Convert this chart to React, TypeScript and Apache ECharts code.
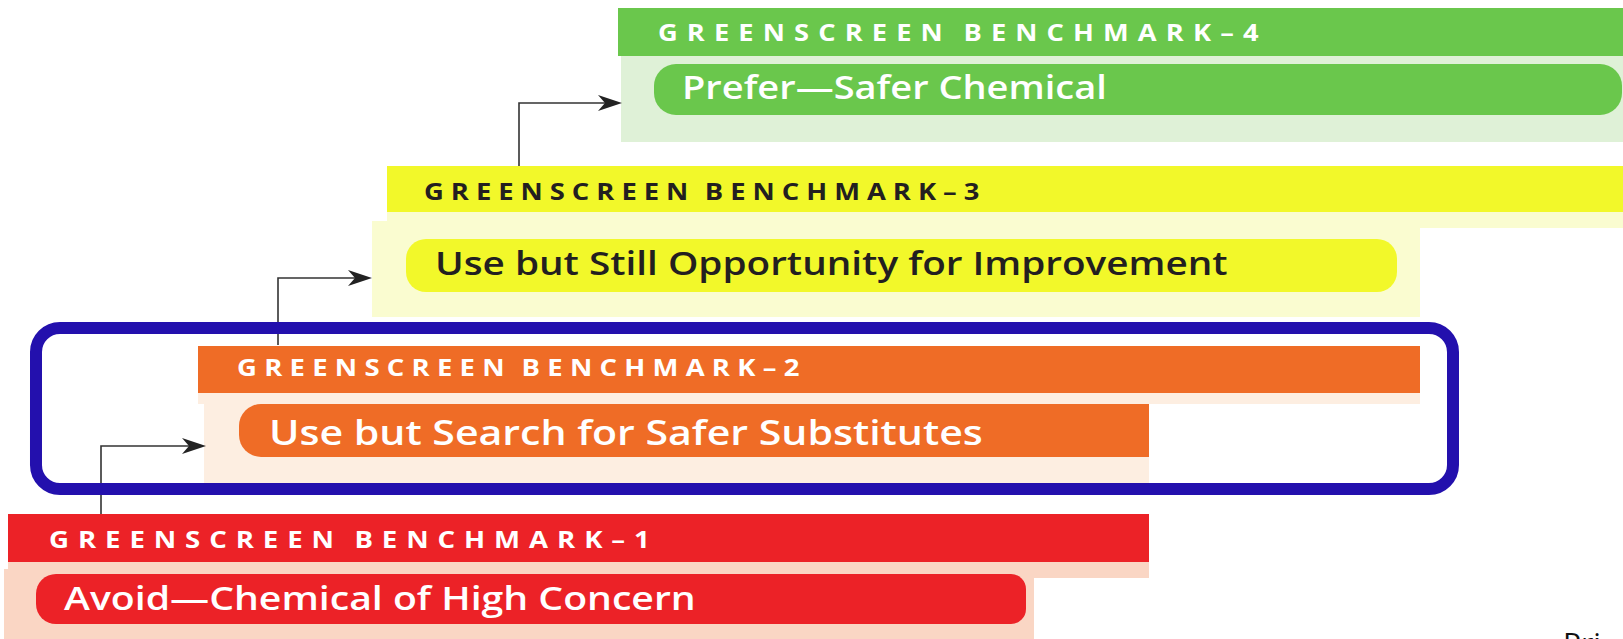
import React, { useEffect, useRef } from "react";
import * as echarts from "echarts";

// ---- content (bottom level first) ----
const benchmarkLabels = [
  "GREENSCREEN BENCHMARK–1",
  "GREENSCREEN BENCHMARK–2",
  "GREENSCREEN BENCHMARK–3",
  "GREENSCREEN BENCHMARK–4",
];
const actionLabels = [
  "Avoid—Chemical of High Concern",
  "Use but Search for Safer Substitutes",
  "Use but Still Opportunity for Improvement",
  "Prefer—Safer Chemical",
];
const footerLabel = "Pri";

// ---- styling ----
const headerColors = ["#ec2227", "#ef6c26", "#f2f82a", "#6ac74c"];
const bandColors = ["#fad6c4", "#fdeee1", "#fafcd0", "#dff1d7"];
const textColors = ["#ffffff", "#ffffff", "#231f20", "#ffffff"];
const headerFontSizes = [24, 23.9, 23.8, 23.7];
const headerSpacing = [7.75, 6.3, 6.1, 7.95];
const headerStretch = 1.15;
const pillFontSizes = [33.2, 34.8, 32.8, 32.2];
const pillStretch = 1.18;
const frameColor = "#2310ad";
const arrowColor = "#333333";

// ---- layout (pixel geometry) ----
const layout = [
  {
    header: { x: 8, y: 514, w: 1141, h: 48 },
    strip: { x: 8, y: 562, w: 1141, h: 16 },
    box: { x: 4, y: 569, w: 1030, h: 70 },
    pill: { x: 36, y: 574, w: 990, h: 50, r: [20, 15, 15, 20] },
    headerText: { x: 49, y: 539 },
    pillText: { x: 64, y: 597 },
  },
  {
    header: { x: 198, y: 346, w: 1222, h: 47 },
    strip: { x: 198, y: 393, w: 1222, h: 11 },
    box: { x: 204, y: 402, w: 945, h: 82 },
    pill: { x: 239, y: 404, w: 910, h: 53, r: [22, 0, 0, 22] },
    headerText: { x: 237, y: 367 },
    pillText: { x: 269, y: 431 },
  },
  {
    header: { x: 387, y: 166, w: 1236, h: 46 },
    strip: { x: 387, y: 212, w: 1236, h: 16 },
    box: { x: 372, y: 221, w: 1048, h: 96 },
    pill: { x: 406, y: 239, w: 991, h: 53, r: 20 },
    headerText: { x: 424, y: 191 },
    pillText: { x: 435, y: 263 },
  },
  {
    header: { x: 618, y: 8, w: 1005, h: 48 },
    strip: null,
    box: { x: 621, y: 56, w: 1002, h: 86 },
    pill: { x: 654, y: 64, w: 968, h: 51, r: 22 },
    headerText: { x: 658, y: 32 },
    pillText: { x: 682, y: 86 },
  },
];

const arrows = [
  [[101, 514], [101, 446], [206, 446]],
  [[278, 345], [278, 278], [372, 278]],
  [[519, 166], [519, 103], [622, 103]],
];

const frame = { x: 36, y: 328, w: 1417, h: 161, r: 24, lw: 12 };
const footerPos = { x: 1563, y: 627 };

function textEl(
  x: number,
  y: number,
  text: string,
  fill: string,
  size: number,
  weight: number | string,
  stretch: number
) {
  return {
    type: "text",
    silent: true,
    x,
    y,
    scaleX: stretch,
    style: {
      text,
      fill,
      fontSize: size,
      fontWeight: weight,
      fontFamily: "Open Sans",
      align: "left",
      verticalAlign: "middle",
    },
  };
}

function buildElements() {
  const els: any[] = [];
  layout.forEach((L, i) => {
    const rect = (g: any, fill: string, r: any = 0) => ({
      type: "rect",
      silent: true,
      shape: { x: g.x, y: g.y, width: g.w, height: g.h, r },
      style: { fill },
    });
    if (L.strip) els.push(rect(L.strip, bandColors[i]));
    els.push(rect(L.box, bandColors[i]));
    els.push(rect(L.header, headerColors[i]));
    els.push(rect(L.pill, headerColors[i], L.pill.r));
    els.push(
      textEl(L.headerText.x, L.headerText.y, benchmarkLabels[i], textColors[i], headerFontSizes[i], 700, headerStretch)
    );
    els.push(
      textEl(L.pillText.x, L.pillText.y, actionLabels[i], textColors[i], pillFontSizes[i], 600, pillStretch)
    );
  });
  arrows.forEach((pts) => {
    const tip = pts[pts.length - 1];
    const len = 24;
    const half = 8;
    const notch = 7;
    const linePts = pts.slice(0, -1).concat([[tip[0] - len + notch, tip[1]]]);
    els.push({
      type: "polyline",
      silent: true,
      shape: { points: linePts },
      style: { stroke: arrowColor, lineWidth: 1.6, fill: null },
    });
    els.push({
      type: "polygon",
      silent: true,
      shape: {
        points: [
          [tip[0], tip[1]],
          [tip[0] - len, tip[1] - half],
          [tip[0] - len + notch, tip[1]],
          [tip[0] - len, tip[1] + half],
        ],
      },
      style: { fill: "#222222" },
    });
  });
  els.push({
    type: "rect",
    silent: true,
    shape: { x: frame.x, y: frame.y, width: frame.w, height: frame.h, r: frame.r },
    style: { fill: null, stroke: frameColor, lineWidth: frame.lw },
  });
  els.push({
    type: "text",
    silent: true,
    x: footerPos.x,
    y: footerPos.y,
    style: {
      text: footerLabel,
      fill: "#111111",
      fontSize: 30,
      fontFamily: "Open Sans",
      align: "left",
      verticalAlign: "top",
    },
  });
  return els;
}

const css = headerFontSizes
  .map(
    (s, i) =>
      `.gs-chart svg text[style*="${s}px"]{letter-spacing:${headerSpacing[i]}px;word-spacing:-4px;}`
  )
  .join("\n");

export default function App() {
  const ref = useRef<HTMLDivElement>(null);
  useEffect(() => {
    if (!ref.current) return;
    const chart = echarts.init(ref.current, null, { renderer: "svg" });
    chart.setOption({
      animation: false,
      backgroundColor: "#ffffff",
      graphic: { elements: buildElements() },
    });
    return () => chart.dispose();
  }, []);
  return (
    <>
      <style>{css}</style>
      <div
        ref={ref}
        className="gs-chart"
        style={{ position: "fixed", left: 0, top: 0, width: 1623, height: 639 }}
      />
    </>
  );
}
